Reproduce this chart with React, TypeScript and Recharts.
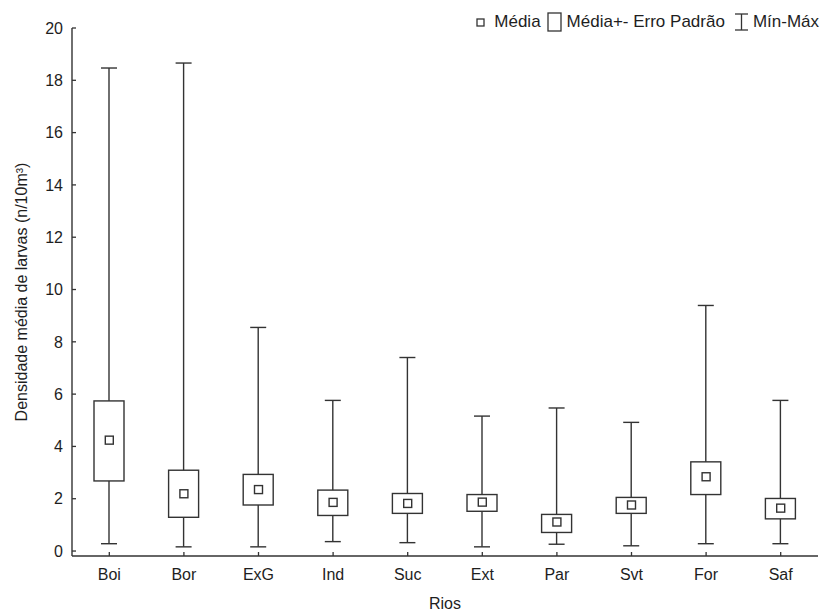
import React from 'react';
import { ComposedChart, Bar, Scatter, XAxis, YAxis } from 'recharts';

const categories = ['Boi', 'Bor', 'ExG', 'Ind', 'Suc', 'Ext', 'Par', 'Svt', 'For', 'Saf'];
const means = [4.24, 2.19, 2.35, 1.86, 1.82, 1.87, 1.11, 1.76, 2.84, 1.64];
const seLow = [2.68, 1.29, 1.76, 1.36, 1.44, 1.52, 0.71, 1.44, 2.16, 1.23];
const seHigh = [5.74, 3.09, 2.93, 2.33, 2.2, 2.16, 1.4, 2.05, 3.41, 2.01];
const mins = [0.28, 0.16, 0.16, 0.36, 0.32, 0.16, 0.26, 0.2, 0.28, 0.28];
const maxs = [18.47, 18.66, 8.55, 5.76, 7.4, 5.16, 5.47, 4.92, 9.39, 5.76];
const yTicks = [0, 2, 4, 6, 8, 10, 12, 14, 16, 18, 20];

const data = categories.map((c, i) => ({
  name: c,
  range: [mins[i], maxs[i]],
  box: [seLow[i], seHigh[i]],
  mean: means[i],
}));

const LINE = '#333';
const TEXT = '#1e1e1e';
const FONT = '"Liberation Sans", Arial, sans-serif';
const FS = 16;

const WhiskerShape = (props: any) => {
  const { x, y, width, height } = props;
  const top = Math.min(y, y + height);
  const bot = Math.max(y, y + height);
  const cx = x + width / 2;
  return (
    <g stroke={LINE} strokeWidth={1.4} fill="none">
      <line x1={cx} y1={top} x2={cx} y2={bot} />
      <line x1={x} y1={top} x2={x + width} y2={top} />
      <line x1={x} y1={bot} x2={x + width} y2={bot} />
    </g>
  );
};

const BoxShape = (props: any) => {
  const { x, y, width, height } = props;
  const top = Math.min(y, y + height);
  return (
    <rect x={x} y={top} width={width} height={Math.abs(height)} fill="#fff" stroke={LINE} strokeWidth={1.4} />
  );
};

const MeanShape = (props: any) => {
  const { cx, cy } = props;
  return <rect x={cx - 4} y={cy - 4} width={8} height={8} fill="#fff" stroke={LINE} strokeWidth={1.4} />;
};

const YTick = (props: any) => {
  const { x, y, payload } = props;
  return (
    <g>
      <line x1={x} y1={y} x2={x + 4} y2={y} stroke={LINE} strokeWidth={1.3} />
      <text x={x - 9} y={y} dy="0.36em" textAnchor="end" fill={TEXT} fontSize={FS} fontFamily={FONT}>
        {payload.value}
      </text>
    </g>
  );
};

const XTick = (props: any) => {
  const { x, y, payload } = props;
  return (
    <g>
      <line x1={x} y1={y} x2={x} y2={y - 4} stroke={LINE} strokeWidth={1.3} />
      <text x={x} y={y + 24} textAnchor="middle" fill={TEXT} fontSize={FS} fontFamily={FONT}>
        {payload.value}
      </text>
    </g>
  );
};

const YTitle = (props: any) => {
  const { viewBox } = props;
  const cy = viewBox.y + viewBox.height / 2;
  return (
    <text x={27} y={cy} transform={`rotate(-90 27 ${cy})`} textAnchor="middle" fill={TEXT} fontSize={FS} fontFamily={FONT}>
      Densidade média de larvas (n/10m³)
    </text>
  );
};

const XTitle = (props: any) => {
  const { viewBox } = props;
  const cx = viewBox.x + viewBox.width / 2;
  return (
    <text x={cx} y={609} textAnchor="middle" fill={TEXT} fontSize={FS} fontFamily={FONT}>
      Rios
    </text>
  );
};

const legendText: React.CSSProperties = { fontFamily: FONT, fontSize: 17, color: TEXT, whiteSpace: 'nowrap' };

const LegendOverlay = () => (
  <div style={{ position: 'absolute', top: 12, right: 9, display: 'flex', alignItems: 'center', height: 20 }}>
    <svg width={9} height={9} style={{ marginRight: 9 }}>
      <rect x={1} y={1} width={7} height={7} fill="#fff" stroke={LINE} strokeWidth={1.3} />
    </svg>
    <span style={legendText}>Média</span>
    <svg width={15} height={20} style={{ marginLeft: 6, marginRight: 5 }}>
      <rect x={1} y={1} width={13} height={18} fill="#fff" stroke={LINE} strokeWidth={1.3} />
    </svg>
    <span style={legendText}>Média+- Erro Padrão</span>
    <svg width={15} height={20} style={{ marginLeft: 9, marginRight: 4 }}>
      <g stroke={LINE} strokeWidth={1.3}>
        <line x1={1} y1={2} x2={14} y2={2} />
        <line x1={7.5} y1={2} x2={7.5} y2={18} />
        <line x1={1} y1={18} x2={14} y2={18} />
      </g>
    </svg>
    <span style={legendText}>Mín-Máx</span>
  </div>
);

export default function App() {
  return (
    <div style={{ position: 'absolute', left: 0, top: 0, width: 828, height: 612, background: '#fff' }}>
      <ComposedChart width={828} height={612} data={data} margin={{ top: 28, right: 10, left: 0, bottom: 0 }}>
        <XAxis
          dataKey="name"
          type="category"
          height={56}
          axisLine={{ stroke: LINE, strokeWidth: 1.4 }}
          tickLine={false}
          tickSize={0}
          tickMargin={0}
          tick={<XTick />}
          interval={0}
          label={{ content: <XTitle /> }}
        />
        <XAxis xAxisId="b" dataKey="name" type="category" hide />
        <YAxis
          type="number"
          domain={[-0.19, 20]}
          ticks={yTicks}
          width={72}
          axisLine={{ stroke: LINE, strokeWidth: 1.4 }}
          tickLine={false}
          tickSize={0}
          tickMargin={0}
          tick={<YTick />}
          interval={0}
          label={{ content: <YTitle /> }}
        />
        <Bar dataKey="range" barSize={16} shape={<WhiskerShape />} isAnimationActive={false} />
        <Bar dataKey="box" xAxisId="b" barSize={30} shape={<BoxShape />} isAnimationActive={false} />
        <Scatter dataKey="mean" shape={<MeanShape />} isAnimationActive={false} />
      </ComposedChart>
      <LegendOverlay />
    </div>
  );
}
